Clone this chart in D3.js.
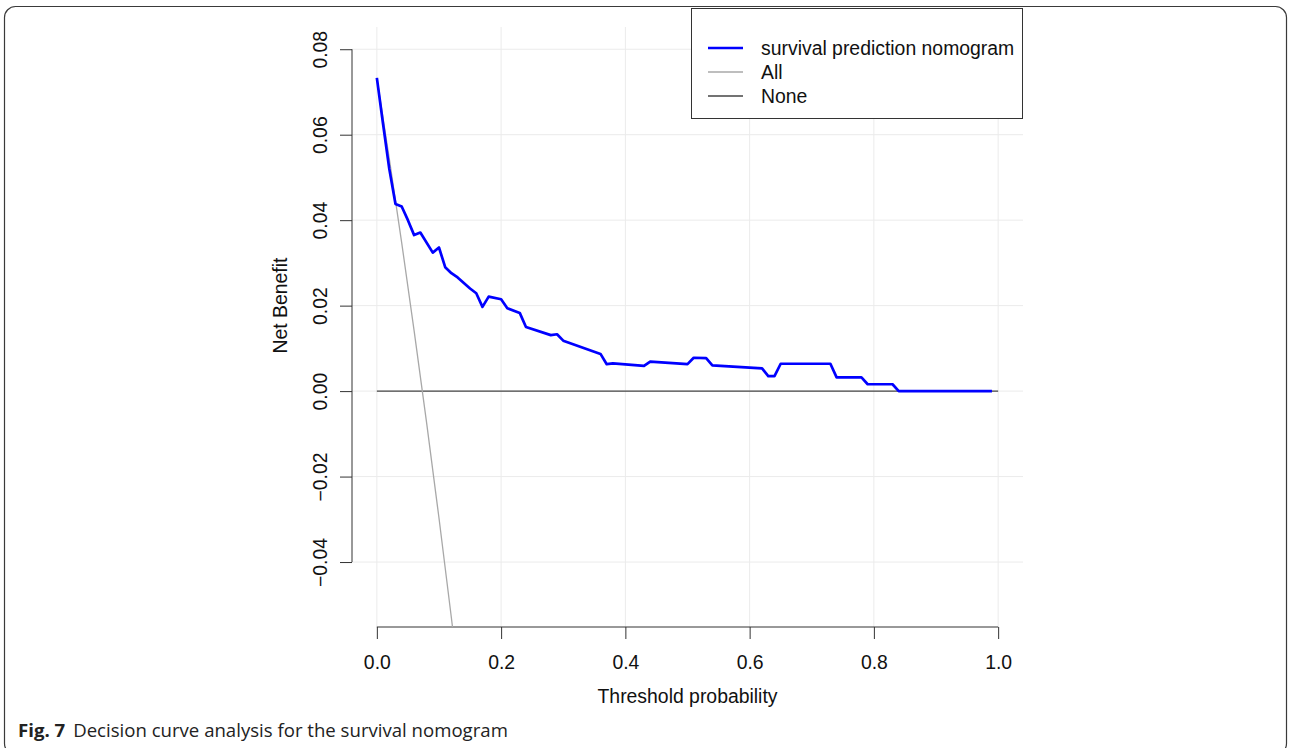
<!DOCTYPE html>
<html>
<head>
<meta charset="utf-8">
<script src="https://cdn.jsdelivr.net/npm/d3@7"></script>
<style>
  html, body { margin: 0; padding: 0; background: #fff; }
  svg { display: block; }
  .r { font-family: "Liberation Sans", Arial, sans-serif; }
  .cap { font-family: "Open Sans", "Noto Sans", sans-serif; }
</style>
</head>
<body>
<svg id="chart" width="1290" height="748"></svg>
<script>
// ---- data ----
const thresholds = [0.00, 0.01, 0.02, 0.03, 0.04, 0.05, 0.06, 0.07, 0.09, 0.10, 0.11, 0.12, 0.13, 0.15, 0.16, 0.17, 0.18, 0.20, 0.21, 0.23, 0.24, 0.28, 0.29, 0.30, 0.36, 0.37, 0.38, 0.43, 0.44, 0.50, 0.51, 0.53, 0.54, 0.62, 0.63, 0.64, 0.65, 0.73, 0.74, 0.78, 0.79, 0.83, 0.84, 0.99];
const nomogramNB = [0.0733, 0.0625, 0.0520, 0.0438, 0.0432, 0.0400, 0.0365, 0.0371, 0.0324, 0.0336, 0.0290, 0.0276, 0.0266, 0.0240, 0.0229, 0.0197, 0.0221, 0.0215, 0.0194, 0.0183, 0.0150, 0.0131, 0.0133, 0.0118, 0.0087, 0.0063, 0.0065, 0.0059, 0.0069, 0.0063, 0.0078, 0.0077, 0.0060, 0.0053, 0.0035, 0.0035, 0.0064, 0.0064, 0.0032, 0.0032, 0.0016, 0.0016, 0.0000, 0.0000];
const allThresholds = [0.00, 0.02, 0.04, 0.06, 0.08, 0.10, 0.12, 0.13];
const allNB = [0.0733, 0.0544, 0.0347, 0.0141, -0.0073, -0.0297, -0.0531, -0.0652];
const noneThresholds = [0, 1];
const noneNB = [0, 0];
const xTicks = [0, 0.2, 0.4, 0.6, 0.8, 1.0];
const xTickLabels = ["0.0", "0.2", "0.4", "0.6", "0.8", "1.0"];
const yTicks = [-0.04, -0.02, 0.00, 0.02, 0.04, 0.06, 0.08];
const yTickLabels = ["\u22120.04", "\u22120.02", "0.00", "0.02", "0.04", "0.06", "0.08"];
const legendLabels = ["survival prediction nomogram", "All", "None"];
const xTitle = "Threshold probability";
const yTitle = "Net Benefit";
const captionBold = "Fig. 7";
const captionText = "Decision curve analysis for the survival nomogram";

// ---- layout ----
const svg = d3.select("#chart");
const plot = { left: 352, right: 1023, top: 27, bottom: 627 };
const xlim = [0, 1], ylim = [-0.05, 0.08];
const xext = (xlim[1] - xlim[0]) * 0.04, yext = (ylim[1] - ylim[0]) * 0.04;
const x = d3.scaleLinear().domain([xlim[0] - xext, xlim[1] + xext]).range([plot.left, plot.right]);
const y = d3.scaleLinear().domain([ylim[0] - yext, ylim[1] + yext]).range([plot.bottom, plot.top]);
const FS = 19.4;

// frame
svg.append("rect")
  .attr("x", 4.5).attr("y", 6.5).attr("width", 1282).attr("height", 748)
  .attr("rx", 11).attr("ry", 11)
  .attr("fill", "none").attr("stroke", "#3a3a3a").attr("stroke-width", 1.2);

svg.append("defs").append("clipPath").attr("id", "clip")
  .append("rect").attr("x", plot.left).attr("y", plot.top)
  .attr("width", plot.right - plot.left).attr("height", plot.bottom - plot.top);

// grid
const grid = svg.append("g");
grid.selectAll("line.v").data(xTicks).join("line")
  .attr("x1", d => x(d)).attr("x2", d => x(d))
  .attr("y1", plot.top).attr("y2", plot.bottom)
  .attr("stroke", "#ebebeb").attr("stroke-width", 1);
grid.selectAll("line.h").data(yTicks).join("line")
  .attr("x1", plot.left).attr("x2", plot.right)
  .attr("y1", d => y(d)).attr("y2", d => y(d))
  .attr("stroke", "#ebebeb").attr("stroke-width", 1);

// axes
const xAxis = svg.append("g").attr("transform", `translate(0,${plot.bottom})`)
  .call(d3.axisBottom(x).tickValues(xTicks).tickFormat((d, i) => xTickLabels[i]).tickSize(12).tickPadding(16));
xAxis.select(".domain").remove();
xAxis.append("line").attr("x1", x(xTicks[0])).attr("x2", x(xTicks[xTicks.length - 1]))
  .attr("y1", 0).attr("y2", 0).attr("stroke", "#333");
xAxis.selectAll(".tick line").attr("stroke", "#333");
xAxis.selectAll(".tick text").attr("class", "r").attr("font-size", FS).attr("fill", "#111");
xAxis.attr("font-family", null).attr("font-size", null);

const yAxis = svg.append("g").attr("transform", `translate(${plot.left},0)`)
  .call(d3.axisLeft(y).tickValues(yTicks).tickFormat((d, i) => yTickLabels[i]).tickSize(12));
yAxis.select(".domain").remove();
yAxis.append("line").attr("y1", y(yTicks[0])).attr("y2", y(yTicks[yTicks.length - 1]))
  .attr("x1", 0).attr("x2", 0).attr("stroke", "#333");
yAxis.selectAll(".tick line").attr("stroke", "#333");
yAxis.selectAll(".tick text")
  .attr("x", null).attr("dy", null)
  .attr("transform", "translate(-25,0) rotate(-90)")
  .attr("text-anchor", "middle")
  .attr("class", "r").attr("font-size", FS).attr("fill", "#111");
yAxis.attr("font-family", null).attr("font-size", null);

// titles
svg.append("text").attr("class", "r").attr("x", x(0.5)).attr("y", 703).attr("text-anchor", "middle")
  .attr("font-size", FS).attr("fill", "#111").text(xTitle);
svg.append("text").attr("class", "r").attr("transform", `translate(287,${y(0.02)}) rotate(-90)`).attr("text-anchor", "middle")
  .attr("font-size", FS).attr("fill", "#111").text(yTitle);

// lines
const lines = svg.append("g").attr("clip-path", "url(#clip)");
const lineGen = d3.line().x(d => x(d[0])).y(d => y(d[1]));
lines.append("path").datum(noneThresholds.map((t, i) => [t, noneNB[i]]))
  .attr("d", lineGen).attr("fill", "none").attr("stroke", "#444").attr("stroke-width", 1.3);
lines.append("path").datum(allThresholds.map((t, i) => [t, allNB[i]]))
  .attr("d", lineGen).attr("fill", "none").attr("stroke", "#a8a8a8").attr("stroke-width", 1.3);
lines.append("path").datum(thresholds.map((t, i) => [t, nomogramNB[i]]))
  .attr("d", lineGen).attr("fill", "none").attr("stroke", "#0000ff").attr("stroke-width", 2.7)
  .attr("stroke-linejoin", "round");

// legend
const lg = svg.append("g");
lg.append("rect").attr("x", 691.5).attr("y", 8.5).attr("width", 331).attr("height", 110)
  .attr("fill", "#fff").attr("stroke", "#333").attr("stroke-width", 1);
const legendStyles = [
  { stroke: "#0000ff", w: 2.7 },
  { stroke: "#a8a8a8", w: 1.3 },
  { stroke: "#444", w: 1.3 }
];
legendLabels.forEach((lab, i) => {
  const cy = 48 + i * 24;
  lg.append("line").attr("x1", 708).attr("x2", 743).attr("y1", cy).attr("y2", cy)
    .attr("stroke", legendStyles[i].stroke).attr("stroke-width", legendStyles[i].w);
  lg.append("text").attr("class", "r").attr("x", 761).attr("y", cy + 7).attr("font-size", FS).attr("fill", "#111").text(lab);
});

// caption
const cap = svg.append("text").attr("class", "cap").attr("x", 18).attr("y", 737)
  .attr("font-size", 18.6).attr("fill", "#222");
cap.append("tspan").attr("font-weight", "bold").text(captionBold);
cap.append("tspan").attr("dx", 8).text(captionText);
</script>
</body>
</html>
